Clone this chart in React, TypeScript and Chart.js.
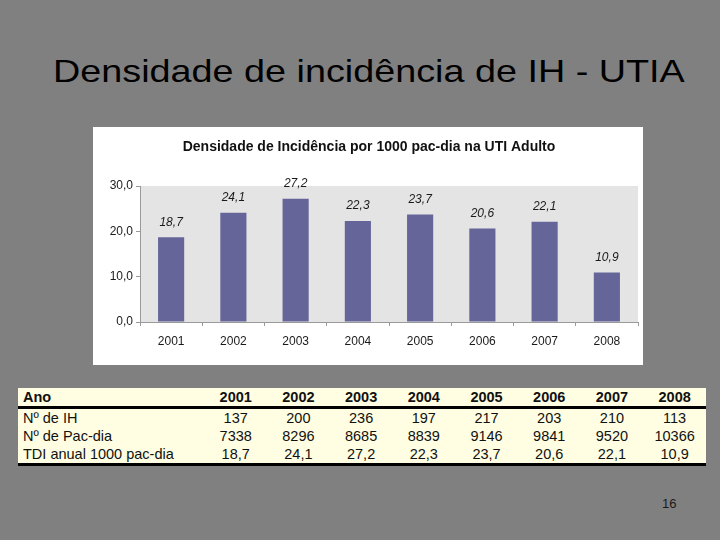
import React, { useEffect, useRef } from "react";
import { Chart, registerables } from "chart.js";

Chart.register(...registerables);

const pageTitle = "Densidade de incidência de IH - UTIA";
const chartTitle = "Densidade de Incidência por 1000 pac-dia na UTI Adulto";
const years = ["2001", "2002", "2003", "2004", "2005", "2006", "2007", "2008"];
const tdi = [18.7, 24.1, 27.2, 22.3, 23.7, 20.6, 22.1, 10.9];
const numIH = [137, 200, 236, 197, 217, 203, 210, 113];
const pacDia = [7338, 8296, 8685, 8839, 9146, 9841, 9520, 10366];
const yMax = 30;
const yStep = 10;
const tableHeader = "Ano";
const rowLabels = ["Nº de IH", "Nº de Pac-dia", "TDI anual 1000 pac-dia"];
const pageNumber = "16";

const FONT = "'Liberation Sans', Arial, Helvetica, sans-serif";
const fmt = (v: number) => v.toFixed(1).replace(".", ",");

const decor = {
  id: "decor",
  beforeDraw(chart: any) {
    const { ctx, chartArea: a, width, height } = chart;
    ctx.save();
    ctx.fillStyle = "#ffffff";
    ctx.fillRect(0, 0, width, height);
    ctx.fillStyle = "#e4e4e4";
    ctx.fillRect(a.left, a.top, a.right - a.left, a.bottom - a.top);
    ctx.font = `bold 14px ${FONT}`;
    ctx.fillStyle = "#111111";
    ctx.textAlign = "center";
    ctx.textBaseline = "middle";
    ctx.fillText(chartTitle, width / 2 + 1, 20);
    ctx.restore();
  },
  afterDatasetsDraw(chart: any) {
    const { ctx } = chart;
    const meta = chart.getDatasetMeta(0);
    ctx.save();
    ctx.font = `italic 12px ${FONT}`;
    ctx.fillStyle = "#1a1a1a";
    ctx.textAlign = "center";
    ctx.textBaseline = "middle";
    meta.data.forEach((bar: any, i: number) => {
      ctx.fillText(fmt(tdi[i]), bar.x, bar.y - 15);
    });
    ctx.restore();
  },
};

function BarChart() {
  const ref = useRef<HTMLCanvasElement | null>(null);
  useEffect(() => {
    if (!ref.current) return;
    const chart = new Chart(ref.current, {
      type: "bar",
      data: {
        labels: years,
        datasets: [
          {
            data: tdi,
            backgroundColor: "#65659a",
            borderWidth: 0,
            barPercentage: 0.84,
            categoryPercentage: 0.5,
          },
        ],
      },
      options: {
        animation: false,
        responsive: false,
        maintainAspectRatio: false,
        layout: { padding: { top: 59, right: 5, left: 0, bottom: 0 } },
        plugins: {
          legend: { display: false },
          title: { display: false },
          tooltip: { enabled: false },
        },
        scales: {
          x: {
            afterFit: (s: any) => {
              s.height = 43;
            },
            grid: {
              offset: true,
              drawOnChartArea: false,
              drawTicks: true,
              tickLength: 4,
              color: "#9a9a9a",
            },
            border: { display: true, color: "#9a9a9a", width: 1 },
            ticks: {
              color: "#1a1a1a",
              font: { family: FONT, size: 12 },
              padding: 8,
            },
          },
          y: {
            min: 0,
            max: yMax,
            afterFit: (s: any) => {
              s.width = 47;
            },
            grid: {
              drawOnChartArea: false,
              drawTicks: true,
              tickLength: 4,
              color: "#9a9a9a",
            },
            border: { display: true, color: "#9a9a9a", width: 1 },
            ticks: {
              stepSize: yStep,
              color: "#1a1a1a",
              font: { family: FONT, size: 12 },
              padding: 3,
              callback: (v: any) => fmt(Number(v)),
            },
          },
        },
      },
      plugins: [decor],
    });
    return () => chart.destroy();
  }, []);
  return (
    <canvas
      ref={ref}
      width={550}
      height={238}
      style={{ position: "absolute", left: 93, top: 127, width: 550, height: 238 }}
    />
  );
}

export default function App() {
  const cell: React.CSSProperties = {
    textAlign: "center",
    padding: 0,
    width: 62.25,
  };
  const labelCell: React.CSSProperties = {
    textAlign: "left",
    padding: "0 0 0 5px",
    width: 180,
    whiteSpace: "nowrap",
  };
  const rows = [
    numIH.map((v) => String(v)),
    pacDia.map((v) => String(v)),
    tdi.map((v) => fmt(v)),
  ];
  return (
    <div
      style={{
        position: "fixed",
        left: 0,
        top: 0,
        width: 720,
        height: 540,
        background: "#808080",
        overflow: "hidden",
        fontFamily: FONT,
      }}
    >
      <div
        style={{
          position: "absolute",
          left: 53,
          top: 55,
          fontSize: 32,
          lineHeight: "32px",
          fontWeight: "normal",
          color: "#000",
          whiteSpace: "nowrap",
          transform: "scaleX(1.18)",
          transformOrigin: "left top",
        }}
      >
        {pageTitle}
      </div>
      <BarChart />
      <table
        style={{
          position: "absolute",
          left: 18,
          top: 388,
          width: 688,
          borderCollapse: "collapse",
          tableLayout: "fixed",
          background: "#fffee2",
          fontSize: 14.5,
          color: "#111",
          fontFamily: FONT,
        }}
      >
        <thead>
          <tr style={{ height: 19, fontWeight: "bold", borderBottom: "3px solid #000" }}>
            <td style={labelCell}>{tableHeader}</td>
            {years.map((y) => (
              <td key={y} style={cell}>
                {y}
              </td>
            ))}
          </tr>
        </thead>
        <tbody>
          {rows.map((r, ri) => (
            <tr
              key={ri}
              style={{
                height: 18,
                lineHeight: "18px",
                borderBottom: ri === rows.length - 1 ? "3px solid #000" : "none",
              }}
            >
              <td style={labelCell}>{rowLabels[ri]}</td>
              {r.map((v, i) => (
                <td key={i} style={cell}>
                  {v}
                </td>
              ))}
            </tr>
          ))}
        </tbody>
      </table>
      <div
        style={{
          position: "absolute",
          left: 662,
          top: 496,
          fontSize: 13,
          color: "#1a1a1a",
        }}
      >
        {pageNumber}
      </div>
    </div>
  );
}
